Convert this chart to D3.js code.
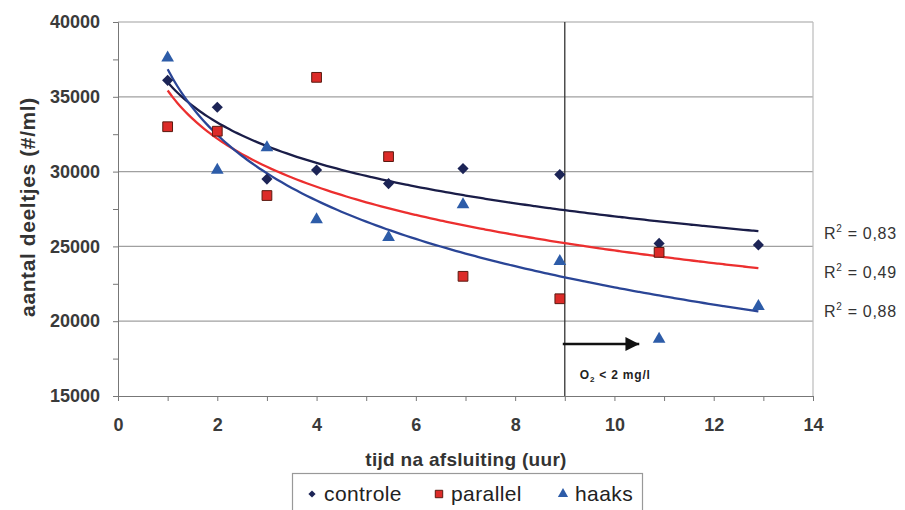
<!DOCTYPE html>
<html>
<head>
<meta charset="utf-8">
<script src="https://cdn.jsdelivr.net/npm/d3@7"></script>
<style>
  body { margin: 0; background: #fff; }
  svg { font-family: "Liberation Sans", Arial, sans-serif; }
</style>
</head>
<body>
<div id="chart"></div>
<script>
// tijden (uur)
var tijd = [1, 2, 3, 4, 5.45, 6.95, 8.9, 10.9, 12.9];
// aantal deeltjes per reeks
var controle = [36100, 34300, 29500, 30100, 29200, 30200, 29800, 25200, 25100];
var parallel = [33000, 32700, 28400, 36300, 31000, 23000, 21500, 24600, null];
var haaks = [37600, 30100, 31600, 26800, 25600, 27800, 24000, 18800, 21000];
var seriesNames = ["controle", "parallel", "haaks"];
var r2Labels = ["0,83", "0,49", "0,88"];
var yTicks = [15000, 20000, 25000, 30000, 35000, 40000];
var xTicks = [0, 2, 4, 6, 8, 10, 12, 14];
var o2Grens = 9;

var W = 905, H = 510;
var m = {left: 118, right: 92, top: 22, bottom: 114};

var svg = d3.select("#chart").append("svg")
    .attr("width", W).attr("height", H);

var x = d3.scaleLinear().domain([0, 14]).range([m.left, W - m.right]);
var y = d3.scaleLinear().domain([15000, 40000]).range([H - m.bottom, m.top]);

var colors = {controle: "#1c2456", parallel: "#dc2b28", haaks: "#2d5ca8"};
var lineColors = {controle: "#1a1d48", parallel: "#ec2f2f", haaks: "#2a4596"};

// gridlines
svg.append("g").selectAll("line").data(yTicks.slice(1)).enter().append("line")
    .attr("x1", x(0)).attr("x2", x(14))
    .attr("y1", function(d){ return y(d); }).attr("y2", function(d){ return y(d); })
    .style("stroke", "#a0a0a0").style("stroke-width", 1.2);
// right border of plot area
svg.append("line")
    .attr("x1", x(14)).attr("x2", x(14)).attr("y1", y(40000)).attr("y2", y(15000))
    .style("stroke", "#bbb").style("stroke-width", 1.2);

// y axis
var yAxis = d3.axisLeft(y).tickValues(d3.range(15000, 40001, 2500))
    .tickFormat(function(d){ return d % 5000 === 0 ? d : ""; })
    .tickSize(5).tickPadding(13);
var gy = svg.append("g").attr("transform", "translate(" + x(0) + ",0)").call(yAxis);
gy.select(".domain").style("stroke", "#777");
gy.selectAll(".tick line").style("stroke", "#777");
gy.selectAll("text").style("font-size", "18px").style("fill", "#3a3a3a").style("font-weight", "bold");

// x axis
var xAxis = d3.axisBottom(x).tickValues(d3.range(0, 15, 1))
    .tickFormat(function(d){ return d % 2 === 0 ? d : ""; })
    .tickSize(5).tickPadding(17);
var gx = svg.append("g").attr("transform", "translate(0," + y(15000) + ")").call(xAxis);
gx.select(".domain").style("stroke", "#777");
gx.selectAll(".tick line").style("stroke", "#777");
gx.selectAll("text").style("font-size", "18px").style("fill", "#3a3a3a").style("font-weight", "bold");

// axis titles
svg.append("text")
    .attr("transform", "translate(35," + ((y(15000) + y(40000)) / 2 - 2) + ") rotate(-90)")
    .attr("text-anchor", "middle")
    .style("font-size", "21px").style("font-weight", "bold").style("fill", "#333")
    .style("letter-spacing", "0.6px")
    .text("aantal deeltjes (#/ml)");
svg.append("text")
    .attr("x", 466).attr("y", 466).attr("text-anchor", "middle")
    .style("font-size", "19px").style("font-weight", "bold").style("fill", "#333")
    .style("letter-spacing", "0.3px")
    .text("tijd na afsluiting (uur)");

// O2 grens
svg.append("line")
    .attr("x1", x(o2Grens)).attr("x2", x(o2Grens)).attr("y1", y(40000)).attr("y2", y(15000))
    .style("stroke", "#333").style("stroke-width", 1.3);
svg.append("defs").append("marker")
    .attr("id", "pijl").attr("viewBox", "0 0 10 10").attr("refX", 10).attr("refY", 5)
    .attr("markerWidth", 6).attr("markerHeight", 6).attr("markerUnits", "strokeWidth")
    .attr("orient", "auto")
    .append("path").attr("d", "M0,0 L10,5 L0,10 Z").attr("fill", "#111");
svg.append("line")
    .attr("x1", x(o2Grens) - 2).attr("x2", x(10.5)).attr("y1", 344).attr("y2", 344)
    .style("stroke", "#111").style("stroke-width", 2.3)
    .attr("marker-end", "url(#pijl)");
var o2 = svg.append("text").attr("x", x(o2Grens) + 15).attr("y", 379)
    .style("font-size", "12px").style("font-weight", "bold").style("fill", "#222")
    .style("letter-spacing", "0.8px");
o2.append("tspan").text("O");
o2.append("tspan").attr("dy", 3).style("font-size", "8px").text("2");
o2.append("tspan").attr("dy", -3).text(" < 2 mg/l");

// trendlijnen (logaritmische regressie op de data)
function logFit(xs, ys) {
  var pts = xs.map(function(v, i){ return [Math.log(v), ys[i]]; })
              .filter(function(p){ return p[1] != null; });
  var mx = d3.mean(pts, function(p){ return p[0]; });
  var my = d3.mean(pts, function(p){ return p[1]; });
  var sxy = d3.sum(pts, function(p){ return (p[0] - mx) * (p[1] - my); });
  var sxx = d3.sum(pts, function(p){ return (p[0] - mx) * (p[0] - mx); });
  var b = sxy / sxx;
  return {a: my - b * mx, b: b};
}
var data = {controle: controle, parallel: parallel, haaks: haaks};
var fitX = d3.range(1, 12.91, 0.1);
var line = d3.line().x(function(d){ return x(d[0]); }).y(function(d){ return y(d[1]); }).curve(d3.curveMonotoneX);
seriesNames.forEach(function(s) {
  var f = logFit(tijd, data[s]);
  svg.append("path")
      .datum(fitX.map(function(t){ return [t, f.a + f.b * Math.log(t)]; }))
      .attr("d", line)
      .style("fill", "none").style("stroke", lineColors[s]).style("stroke-width", 2.3);
});

// markers
var sym = {controle: d3.symbolSquare, parallel: d3.symbolSquare, haaks: d3.symbolTriangle};
var rot = {controle: " rotate(45)", parallel: "", haaks: ""};
var symSize = {controle: 62, parallel: 95, haaks: 70};
seriesNames.forEach(function(s) {
  var pts = tijd.map(function(t, i){ return [t, data[s][i]]; }).filter(function(p){ return p[1] != null; });
  svg.append("g").selectAll("path").data(pts).enter().append("path")
      .attr("transform", function(d){ return "translate(" + x(d[0]) + "," + y(d[1]) + ")" + rot[s]; })
      .attr("d", d3.symbol().type(sym[s]).size(symSize[s]))
      .style("fill", colors[s])
      .style("stroke", s === "parallel" ? "#5a1a10" : "none").style("stroke-width", 1);
});

// R2 labels
var r2Y = [233, 272, 311];
r2Labels.forEach(function(r, i) {
  var t = svg.append("text").attr("x", 824).attr("y", r2Y[i] + 6)
      .style("font-size", "16px").style("fill", "#333").style("letter-spacing", "0.7px");
  t.append("tspan").text("R");
  t.append("tspan").attr("dy", -7).style("font-size", "10px").text("2");
  t.append("tspan").attr("dy", 7).text(" = " + r);
});

// legend
var lg = svg.append("g");
lg.append("rect").attr("x", 292.5).attr("y", 473.5).attr("width", 350).attr("height", 45)
    .style("fill", "#fff").style("stroke", "#999").style("stroke-width", 1.2);
var legX = [312, 439, 563];
var legSize = {controle: 26, parallel: 55, haaks: 45};
seriesNames.forEach(function(s, i) {
  lg.append("path")
      .attr("transform", "translate(" + legX[i] + ",494)" + rot[s])
      .attr("d", d3.symbol().type(sym[s]).size(legSize[s]))
      .style("fill", colors[s])
      .style("stroke", s === "parallel" ? "#5a1a10" : "none");
  lg.append("text").attr("x", legX[i] + 12).attr("y", 501)
      .style("font-size", "21px").style("fill", "#222").style("letter-spacing", "0.4px")
      .text(s);
});
</script>
</body>
</html>
